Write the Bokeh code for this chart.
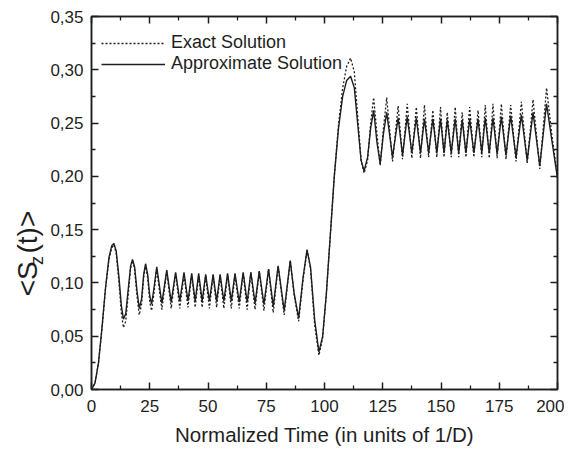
from bokeh.plotting import figure
from bokeh.models import (Range1d, FixedTicker, LinearAxis, CustomJSTickFormatter,
                          Legend, LegendItem)
from bokeh.embed import file_html
from bokeh.resources import INLINE

# ---- data (times of read points, in units of 1/D) ----
time = [0, 1.5, 3, 4.5, 6, 7.5, 8.7, 9.6, 10.6, 11.8, 12.8, 13.7, 14.7, 15.8, 16.8, 17.6,
        18.5, 19.5, 20.5, 21.5, 22.4, 23.2, 24.1, 25, 25.8, 26.8, 28,
        30.2, 32.3, 34.2, 36.1, 37.9, 39.7, 41.4, 43, 44.5, 46, 47.5, 49, 50.6, 52.2,
        53.7, 55.2, 56.8, 58.4, 60, 61.6, 63.4, 65.1, 66.8, 68.4, 70.2, 72, 74, 76,
        78, 80.1, 82.7, 85.3, 87, 88.9, 90.8, 92.5, 94, 95.8, 97.6, 99.2, 100.8,
        102.5, 104.2, 106, 107.8, 109.5, 111.2, 112.8, 114.3, 115.7, 117, 118.5,
        119.8, 121.1, 122.5, 123.9, 125.3, 126.7, 129.2, 131.6, 133.5, 135.5, 137.5,
        139.4, 141.2, 142.9, 144.7, 146.5, 148.2, 149.8, 151.3, 152.7, 154.4, 156.1,
        157.6, 159.1, 160.7, 162.3, 164.1, 165.9, 167.5, 169, 170.7, 172.3, 174.1,
        175.9, 177.9, 179.9, 182.2, 184.5, 187, 189.5, 192.4, 195.3, 197.5, 200]

approx = [0, 0.006, 0.025, 0.058, 0.095, 0.124, 0.135, 0.137, 0.130, 0.105, 0.079, 0.066,
          0.071, 0.095, 0.116, 0.122, 0.115, 0.093, 0.076, 0.085, 0.108, 0.118, 0.108,
          0.088, 0.080, 0.095, 0.115,
          0.081, 0.112, 0.082, 0.110, 0.083, 0.110, 0.083, 0.109, 0.083, 0.109, 0.083,
          0.108, 0.083, 0.108, 0.083, 0.108, 0.083, 0.109, 0.083, 0.109, 0.082, 0.110,
          0.082, 0.110, 0.081, 0.111, 0.080, 0.113, 0.078, 0.116, 0.074, 0.121, 0.090,
          0.067, 0.105, 0.131, 0.115, 0.065, 0.035, 0.050, 0.090, 0.145, 0.200, 0.245,
          0.275, 0.290, 0.294, 0.283, 0.248, 0.215, 0.205, 0.218, 0.245, 0.262, 0.232,
          0.212, 0.240, 0.260, 0.218, 0.255, 0.220, 0.256, 0.222, 0.255, 0.222, 0.254,
          0.222, 0.254, 0.222, 0.254, 0.222, 0.253, 0.222, 0.254, 0.222, 0.253, 0.222,
          0.254, 0.222, 0.254, 0.222, 0.255, 0.222, 0.255, 0.221, 0.256, 0.220, 0.257,
          0.218, 0.258, 0.215, 0.260, 0.210, 0.268, 0.235, 0.198]

exact = [0, 0.006, 0.025, 0.057, 0.094, 0.122, 0.133, 0.136, 0.128, 0.100, 0.072, 0.058,
         0.064, 0.090, 0.114, 0.121, 0.113, 0.088, 0.070, 0.080, 0.105, 0.117, 0.105,
         0.082, 0.074, 0.090, 0.113,
         0.075, 0.111, 0.076, 0.109, 0.076, 0.108, 0.077, 0.108, 0.077, 0.107, 0.077,
         0.107, 0.076, 0.107, 0.077, 0.107, 0.076, 0.108, 0.076, 0.108, 0.076, 0.109,
         0.075, 0.110, 0.075, 0.111, 0.074, 0.113, 0.072, 0.116, 0.070, 0.121, 0.088,
         0.064, 0.103, 0.131, 0.113, 0.060, 0.032, 0.048, 0.090, 0.145, 0.200, 0.248,
         0.283, 0.303, 0.311, 0.298, 0.255, 0.215, 0.203, 0.215, 0.250, 0.274, 0.240,
         0.210, 0.245, 0.274, 0.214, 0.266, 0.216, 0.268, 0.217, 0.265, 0.217, 0.267,
         0.218, 0.262, 0.218, 0.265, 0.218, 0.260, 0.218, 0.265, 0.218, 0.260, 0.218,
         0.265, 0.218, 0.262, 0.218, 0.267, 0.217, 0.268, 0.217, 0.268, 0.216, 0.267,
         0.214, 0.270, 0.212, 0.272, 0.207, 0.283, 0.240, 0.200]

x_major = [0, 25, 50, 75, 100, 125, 150, 175, 200]
x_minor = [12.5, 37.5, 62.5, 87.5, 112.5, 137.5, 162.5, 187.5]
y_major = [0.0, 0.05, 0.10, 0.15, 0.20, 0.25, 0.30, 0.35]
y_minor = [0.025, 0.075, 0.125, 0.175, 0.225, 0.275, 0.325]
series_labels = ["Exact Solution", "Approximate Solution"]
x_title = "Normalized Time (in units of 1/D)"
y_title_main = ["<S", "(t)>"]
y_title_sub = "z"

FONT = "Liberation Sans"
INK = "#1e1e1e"
NBSP = "\u00a0"

p = figure(width=564, height=453, output_backend="svg", toolbar_location=None,
           x_range=Range1d(0, 200), y_range=Range1d(0, 0.35),
           min_border_left=91, min_border_right=7, min_border_top=16, min_border_bottom=64)
p.xgrid.visible = False
p.ygrid.visible = False
p.outline_line_color = INK
p.outline_line_width = 1.5
p.background_fill_color = "white"
p.border_fill_color = "white"

r_exact = p.line(time, exact, line_color=INK, line_width=1.3, line_dash="2 2")
r_approx = p.line(time, approx, line_color=INK, line_width=1.4)

p.xaxis.ticker = FixedTicker(ticks=x_major, minor_ticks=x_minor)
p.yaxis.ticker = FixedTicker(ticks=y_major, minor_ticks=y_minor)
p.yaxis.formatter = CustomJSTickFormatter(code="return tick.toFixed(2).replace('.', ',');")


def style(ax, labels=True):
    ax.major_tick_in = 7
    ax.major_tick_out = 0
    ax.minor_tick_in = 4
    ax.minor_tick_out = 0
    ax.axis_line_width = 1.5
    ax.axis_line_color = INK
    ax.major_tick_line_color = INK
    ax.minor_tick_line_color = INK
    ax.major_tick_line_width = 1.5
    ax.minor_tick_line_width = 1.3
    if labels:
        ax.major_label_text_font = FONT
        ax.major_label_text_font_size = "17px"
        ax.major_label_text_color = INK
    else:
        ax.major_label_text_font_size = "0px"
        ax.major_label_text_color = None
        ax.major_label_standoff = 0


style(p.xaxis[0])
style(p.yaxis[0])
p.yaxis.major_label_standoff = 8
p.xaxis.major_label_standoff = 10
p.xaxis.axis_label = x_title
p.xaxis.axis_label_text_font = FONT
p.xaxis.axis_label_text_font_size = "20.5px"
p.xaxis.axis_label_text_font_style = "normal"
p.xaxis.axis_label_text_color = INK
p.xaxis.axis_label_standoff = 8

# subscript "z" of the y title, carried by the y axis itself
p.yaxis.axis_label = y_title_sub + NBSP * 23
p.yaxis.axis_label_text_font = FONT
p.yaxis.axis_label_text_font_size = "18px"
p.yaxis.axis_label_text_font_style = "normal"
p.yaxis.axis_label_text_color = INK
p.yaxis.axis_label_standoff = 0

top = LinearAxis(ticker=FixedTicker(ticks=x_major, minor_ticks=x_minor))
right = LinearAxis(ticker=FixedTicker(ticks=y_major, minor_ticks=y_minor))
style(top, labels=False)
style(right, labels=False)
p.add_layout(top, "above")
p.add_layout(right, "right")

# main part of the y title "<S (t)>" on an outer, invisible left axis
outer = LinearAxis(ticker=FixedTicker(ticks=[]), axis_line_color=None,
                   major_tick_line_color=None, minor_tick_line_color=None,
                   major_tick_out=0, minor_tick_out=0, major_tick_in=0, minor_tick_in=0,
                   major_label_text_font_size="0px", major_label_text_color=None,
                   major_label_standoff=0,
                   axis_label=y_title_main[0] + NBSP + y_title_main[1] + NBSP * 13,
                   axis_label_text_font=FONT, axis_label_text_font_size="28px",
                   axis_label_text_font_style="normal", axis_label_text_color=INK,
                   axis_label_standoff=-18)
p.add_layout(outer, "left")

legend = Legend(items=[LegendItem(label=series_labels[0], renderers=[r_exact]),
                       LegendItem(label=series_labels[1], renderers=[r_approx])],
                location=(10, 315), padding=0, margin=0, spacing=0,
                glyph_width=64, glyph_height=20, label_height=20, label_standoff=6,
                label_text_font=FONT, label_text_font_size="18px", label_text_color=INK,
                border_line_color=None, background_fill_alpha=0)
p.add_layout(legend)

open("out.html", "w").write(file_html(p, INLINE))
